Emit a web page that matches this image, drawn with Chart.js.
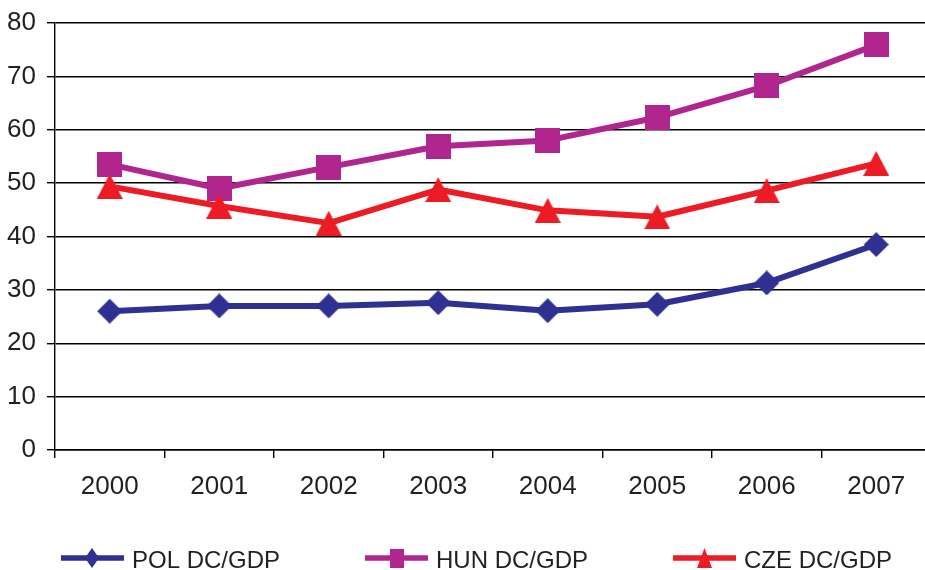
<!DOCTYPE html>
<html>
<head>
<meta charset="utf-8">
<script src="https://cdn.jsdelivr.net/npm/chart.js@4/dist/chart.umd.min.js"></script>
<style>
  html, body { margin: 0; padding: 0; overflow: hidden; background: #ffffff; }
  canvas { display: block; }
</style>
</head>
<body>
<canvas id="chart" width="953" height="570"></canvas>
<script>
// Domestic credit to GDP ratio (%), 2000–2007
const years = ['2000', '2001', '2002', '2003', '2004', '2005', '2006', '2007'];
const polValues = [26.0, 27.0, 27.0, 27.6, 26.1, 27.3, 31.3, 38.5];
const hunValues = [53.5, 49.0, 53.0, 56.9, 58.0, 62.3, 68.2, 75.9];
const czeValues = [49.4, 45.7, 42.5, 48.8, 44.9, 43.7, 48.6, 53.7];
const seriesLabels = ['POL DC/GDP', 'HUN DC/GDP', 'CZE DC/GDP'];

const axisMin = 0;
const axisMax = 80;
const axisStep = 10;

const NAVY = '#2E3192';
const MAGENTA = '#B0268E';
const RED = '#ED1C24';
const TEXT = '#231F20';
const FONT_FAMILY = '"Liberation Sans", Arial, Helvetica, sans-serif';

// Solid marker bitmaps, centred on their bounding box
function markerImage(w, h, color, shape) {
  const c = document.createElement('canvas');
  c.width = w;
  c.height = h;
  const g = c.getContext('2d');
  g.fillStyle = color;
  g.beginPath();
  if (shape === 'diamond') {
    g.moveTo(w / 2, 0); g.lineTo(w, h / 2); g.lineTo(w / 2, h); g.lineTo(0, h / 2);
  } else if (shape === 'square') {
    g.rect(0, 0, w, h);
  } else {
    g.moveTo(w / 2, 0); g.lineTo(w, h); g.lineTo(0, h);
  }
  g.closePath();
  g.fill();
  return c;
}

const plotMarkers = [
  markerImage(25, 25, NAVY, 'diamond'),
  markerImage(25, 25, MAGENTA, 'square'),
  markerImage(26, 25, RED, 'triangle')
];
const keyMarkers = [
  markerImage(14, 20, NAVY, 'diamond'),
  markerImage(14, 19, MAGENTA, 'square'),
  markerImage(15, 20, RED, 'triangle')
];

// Key row under the plot: line sample with marker, then the series name
const bottomKey = {
  id: 'bottomKey',
  afterDraw(chart) {
    const ctx = chart.ctx;
    const sets = chart.data.datasets;
    const lineLen = 63, textGap = 8, itemGap = 85;
    const symbolY = 558, textBaseline = 568;
    ctx.save();
    ctx.font = '24px ' + FONT_FAMILY;
    const widths = sets.map(d => lineLen + textGap + ctx.measureText(d.label).width);
    const total = widths.reduce((a, b) => a + b, 0) + itemGap * (sets.length - 1);
    let x = (chart.width - total) / 2;
    sets.forEach((d, i) => {
      ctx.strokeStyle = d.borderColor;
      ctx.lineWidth = 5.5;
      ctx.lineCap = 'butt';
      ctx.beginPath();
      ctx.moveTo(x, symbolY);
      ctx.lineTo(x + lineLen, symbolY);
      ctx.stroke();
      const m = keyMarkers[i];
      ctx.drawImage(m, Math.round(x + lineLen / 2 - m.width / 2), Math.round(symbolY - m.height / 2));
      ctx.fillStyle = TEXT;
      ctx.textBaseline = 'alphabetic';
      ctx.textAlign = 'left';
      ctx.fillText(d.label, x + lineLen + textGap, textBaseline);
      x += widths[i] + itemGap;
    });
    ctx.restore();
  }
};

const seriesValues = [polValues, hunValues, czeValues];
const seriesColors = [NAVY, MAGENTA, RED];

new Chart(document.getElementById('chart'), {
  type: 'line',
  data: {
    labels: years,
    datasets: seriesValues.map((vals, i) => ({
      label: seriesLabels[i],
      data: vals,
      borderColor: seriesColors[i],
      backgroundColor: seriesColors[i],
      borderWidth: 6,
      borderJoinStyle: 'round',
      borderCapStyle: 'round',
      pointStyle: plotMarkers[i],
      pointRadius: 13,
      pointHoverRadius: 13,
      tension: 0,
      fill: false,
      order: 3 - i
    }))
  },
  options: {
    responsive: false,
    animation: false,
    events: [],
    layout: { padding: { left: 0, right: 22, top: 23, bottom: 70 } },
    plugins: {
      legend: { display: false },
      tooltip: { enabled: false },
      title: { display: false }
    },
    scales: {
      x: {
        type: 'category',
        offset: true,
        grid: {
          offset: true,
          drawOnChartArea: false,
          drawTicks: true,
          tickLength: 8,
          color: '#000000',
          lineWidth: 1.4
        },
        border: { display: true, color: '#000000', width: 1.4 },
        ticks: {
          color: TEXT,
          padding: 13,
          maxRotation: 0,
          autoSkip: false,
          font: { family: FONT_FAMILY, size: 26 }
        },
        afterFit(scale) {
          scale.height = 50;
          scale.paddingLeft = 0;
          scale.paddingRight = 0;
        }
      },
      y: {
        min: axisMin,
        max: axisMax,
        grid: {
          color: '#000000',
          lineWidth: 1.4,
          drawTicks: true,
          tickLength: 8
        },
        border: { display: true, color: '#000000', width: 1.4 },
        ticks: {
          stepSize: axisStep,
          color: TEXT,
          padding: 11,
          font: { family: FONT_FAMILY, size: 26 }
        },
        afterFit(scale) {
          scale.width = 55;
          scale.paddingTop = 0;
          scale.paddingBottom = 0;
        }
      }
    }
  },
  plugins: [bottomKey]
});
</script>
</body>
</html>
